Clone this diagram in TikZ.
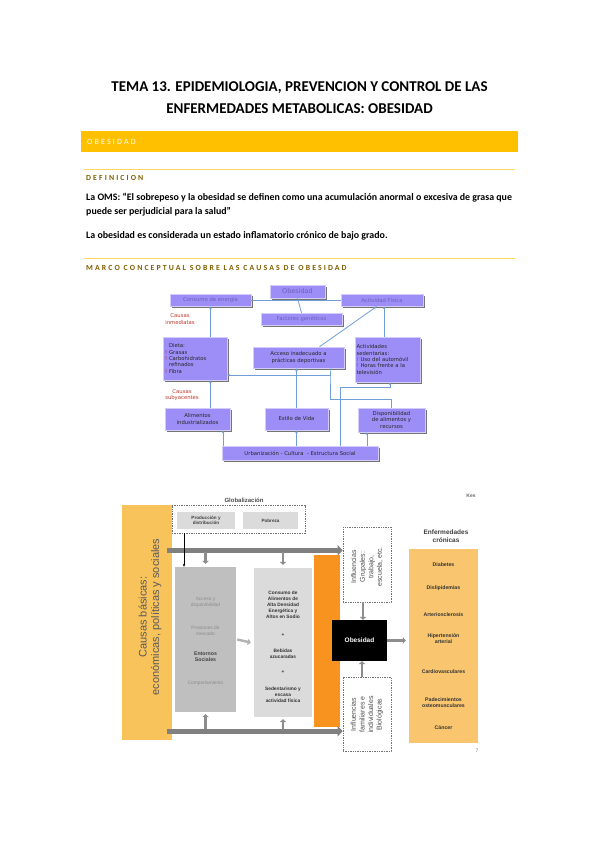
\documentclass[tikz,border=0pt]{standalone}
\usepackage{fontspec}
\setmainfont{Carlito}
\newfontfamily\spaced[LetterSpace=27]{Carlito}
\newfontfamily\verdfont{DejaVu Sans}
\newfontfamily\arialfont{Liberation Sans}
\usetikzlibrary{arrows.meta,positioning,shadows}

\definecolor{gold}{HTML}{FFC000}
\definecolor{rulegold}{HTML}{FFD966}
\definecolor{headgold}{HTML}{7F6000}
\definecolor{purplebox}{HTML}{9D8DF7}
\definecolor{purpletext}{HTML}{6B60B8}
\definecolor{linkblue}{HTML}{6F9ED8}
\definecolor{causered}{HTML}{C0392B}
\definecolor{basicyellow}{HTML}{F9C35C}
\definecolor{orangebar}{HTML}{F7931E}
\definecolor{sickyellow}{HTML}{F9C56E}
\definecolor{bargray}{HTML}{808080}

\newcommand{\redmark}{\makebox[4pt][l]{\textcolor{causered}{!}}}

\begin{document}
\begin{tikzpicture}[
    x=1pt, y=-1pt,
    >={Stealth[length=3pt,width=2.6pt]},
    doc/.style={font=\bfseries\fontsize{9.9}{12}\selectfont, anchor=west, inner sep=0pt},
    head/.style={font=\spaced\bfseries\fontsize{7.8}{9}\selectfont, text=headgold, anchor=west, inner sep=0pt},
    goldrule/.style={draw=rulegold, line width=0.9pt},
    cbox/.style={draw=purplebox!45, line width=0.5pt, fill=purplebox, inner sep=1pt, align=center,
        font=\verdfont\fontsize{5.3}{6.3}\selectfont, text=black!85,
        drop shadow={shadow xshift=2pt, shadow yshift=-2pt, fill=black!60, draw=none, opacity=0.9}},
    toprow/.style={cbox, text=purpletext},
    cause/.style={font=\verdfont\fontsize{5.3}{6.3}\selectfont, text=causered, align=center, inner sep=0pt},
    link/.style={draw=linkblue, line width=0.8pt},
    arr/.style={link, ->},
    gbox/.style={fill=black!14, align=center, inner sep=0pt,
        font=\arialfont\bfseries\fontsize{4.6}{5.6}\selectfont, text=black!75},
    dbox/.style={draw=black!55, dash pattern=on 1.4pt off 1pt, line width=0.6pt, fill=white, inner sep=0pt},
    rot/.style={rotate=90, align=center, inner sep=0pt, font=\arialfont\fontsize{7}{8.6}\selectfont, text=black!70},
    gbar/.style={draw=bargray, line width=5pt, -{Triangle[length=5pt,width=10pt]}},
    gsmall/.style={draw=bargray!90, line width=2.4pt, -{Triangle[length=3pt,width=6.5pt]}},
    lgarrow/.style={draw=black!30, line width=2.4pt, -{Triangle[length=3pt,width=6.5pt]}},
    inner/.style={align=center, inner sep=0pt, font=\arialfont\fontsize{4.8}{5.8}\selectfont, text=black!45},
    bold/.style={align=center, inner sep=0pt, font=\arialfont\bfseries\fontsize{4.8}{5.9}\selectfont, text=black!80},
    sick/.style={align=center, inner sep=0pt, font=\arialfont\bfseries\fontsize{5.2}{6.2}\selectfont, text=black!80}
]
\fill[white] (0,0) rectangle (599,848);
\useasboundingbox (0,0) rectangle (599,848);

% page header
\node[font=\bfseries\fontsize{15}{18}\selectfont] (title1) at (299.5,88) {TEMA 13. EPIDEMIOLOGIA, PREVENCION Y CONTROL DE LAS};
\node[font=\bfseries\fontsize{15}{18}\selectfont] (title2) at (299.5,109) {ENFERMEDADES METABOLICAS: OBESIDAD};

\node[fill=gold, minimum width=437pt, minimum height=21pt, inner sep=0pt, anchor=north west] (secbar) at (81,131) {};
\node[anchor=west, inner sep=0pt, text=white, font=\spaced\fontsize{8}{9}\selectfont] (seclbl) at (87,142) {OBESIDAD};

\draw[goldrule] (84,169) -- (515,169);
\node[head] (def) at (86,178) {DEFINICION};
\node[doc] (oms1) at (86,197.5) {La OMS: “El sobrepeso y la obesidad se definen como una acumulación anormal o excesiva de grasa que};
\node[doc] (oms2) at (86,212) {puede ser perjudicial para la salud”};
\node[doc] (infl) at (86,235.5) {La obesidad es considerada un estado inflamatorio crónico de bajo grado.};

\draw[goldrule] (84,258.5) -- (515,258.5);
\node[head] (marco) at (86,267.5) {MARCO CONCEPTUAL SOBRE LAS CAUSAS DE OBESIDAD};

% marco conceptual
\node[toprow, minimum width=81pt, minimum height=12pt] (energia) at (210.5,300) {Consumo de energía};
\node[toprow, minimum width=55pt, minimum height=13pt, font=\verdfont\fontsize{6.5}{7.5}\selectfont] (obesA) at (297.5,291.5) {Obesidad};
\node[toprow, minimum width=82pt, minimum height=12pt] (fisica) at (382,300) {Actividad Física};
\node[toprow, minimum width=81pt, minimum height=12pt] (genes) at (301.5,319) {Factores genéticos};

\node[cbox, minimum width=64pt, minimum height=43pt, text width=60pt, align=left] (dieta) at (195,358.5)
    {\hspace*{4pt}Dieta:\\\redmark Grasas\\\redmark Carbohidratos\\\hspace*{4pt}refinados\\\redmark Fibra};
\node[cbox, minimum width=91pt, minimum height=21pt] (acceso) at (298.5,357.5) {Acceso inadecuado a\\prácticas deportivas};
\node[cbox, minimum width=65pt, minimum height=45pt, text width=62pt, align=left] (sedent) at (387.5,359.5)
    {Actividades\\sedentarias:\\\redmark Uso del automóvil\\\redmark Horas frente a la\\televisión};

\node[cbox, minimum width=65pt, minimum height=22pt] (alim) at (197.5,419) {Alimentos\\industrializados};
\node[cbox, minimum width=63pt, minimum height=22pt] (estilo) at (296.5,419) {Estilo de Vida};
\node[cbox, minimum width=67pt, minimum height=24pt] (dispo) at (391.5,420) {Disponibilidad\\de alimentos y\\recursos};
\node[cbox, minimum width=156pt, minimum height=14pt] (urban) at (300,453) {Urbanización - Cultura \ - Estructura Social};

\node[cause] (inmed) at (180,319) {Causas\\inmediatas};
\node[cause] (subya) at (182,395) {Causas\\subyacentes};

\draw[link] (energia.east) -- (fisica.west);
\draw[link] (obesA.south) -- (genes.north);
\draw[arr] (dieta.north -| energia.south) -- (energia.south);
\draw[arr] ([xshift=21pt]acceso.north) -- ([xshift=-5pt]fisica.south);
\draw[arr] ([xshift=2pt]fisica.south |- sedent.north) -- ([xshift=2pt]fisica.south);
\draw[arr] (alim.north -| energia.south) -- (dieta.south -| energia.south);
\draw[arr] (dispo.north) -- ++(0,-8) -| ([xshift=31.5pt]acceso.south) |- ([yshift=-16.5pt]dieta.east);
\draw[arr] (estilo.north) -- (estilo.north |- acceso.south);
\draw[arr] ([xshift=25.5pt]alim.south |- urban.north) -- ([xshift=25.5pt]alim.south);
\draw[arr] (estilo.south |- urban.north) -- (estilo.south);
\draw[arr] ([xshift=40pt]urban.north) |- ([xshift=2.5pt,yshift=-5pt]sedent.south) -- ([xshift=2.5pt]sedent.south);
\draw[arr] ([xshift=-24.5pt]dispo.south |- urban.north) -- ([xshift=-24.5pt]dispo.south);

% causas basicas
\node[font=\arialfont\bfseries\fontsize{6}{7}\selectfont, text=black!70, inner sep=0pt] (glob) at (244,500) {Globalización};
\node[dbox, minimum width=133pt, minimum height=28pt] (globbox) at (238.5,519) {};
\node[gbox, minimum width=58pt, minimum height=17pt] (prod) at (206,520.5) {Producción y\\distribución};
\node[gbox, minimum width=55pt, minimum height=17pt] (pobreza) at (270.5,520.5) {Pobreza};

\node[fill=basicyellow, minimum width=50pt, minimum height=235pt, inner sep=0pt] (basic) at (147,622.5) {};
\node[rotate=90, align=center, inner sep=0pt, text=black!65, font=\arialfont\fontsize{11}{12.5}\selectfont] (basiclbl) at (150,617)
    {Causas básicas:\\económicas, políticas y sociales};

\node[fill=black!25, minimum width=61pt, minimum height=145pt, inner sep=0pt] (acc) at (205.5,639.5) {};
\node[inner] (acc1) at (205.5,602) {Acceso y\\disponibilidad};
\node[inner] (acc2) at (205.5,630.5) {Presiones de\\mercado};
\node[bold, font=\arialfont\bfseries\fontsize{5.2}{6.4}\selectfont, text=black!75] (acc3) at (205.5,657) {Entornos\\Sociales};
\node[inner] (acc4) at (205.5,683) {Comportamiento};

\node[fill=black!14, minimum width=58pt, minimum height=149pt, inner sep=0pt] (cons) at (283,642.5) {};
\node[bold] (cons1) at (283,604.5) {Consumo de\\Alimentos de\\Alta Densidad\\Energética y\\Altos en Sodio};
\node[bold] (cons2) at (283,635) {+};
\node[bold] (cons3) at (283,654) {Bebidas\\azucaradas};
\node[bold] (cons4) at (283,672) {+};
\node[bold] (cons5) at (283,695) {Sedentarismo y\\escasa\\actividad física};

\node[fill=orangebar, minimum width=26pt, minimum height=172pt, inner sep=0pt] (orange) at (327,641) {};

\node[dbox, minimum width=48pt, minimum height=75pt] (grupal) at (367,564.5) {};
\node[rot] (grupallbl) at (367,567) {Influencias\\Grupales:\\trabajo,\\escuela, etc.};
\node[fill=black, minimum width=55pt, minimum height=41pt, inner sep=0pt, text=white,
    font=\arialfont\bfseries\fontsize{6.5}{8}\selectfont] (obesB) at (359.5,640.5) {Obesidad};
\node[dbox, minimum width=48pt, minimum height=74pt] (famil) at (367,714) {};
\node[rot] (famillbl) at (367,714.5) {Influencias\\familiares e\\individuales\\Biológicas};

\coordinate (topbar) at ([xshift=-5pt,yshift=-45.5pt]basic.north east);
\coordinate (botbar) at ([xshift=-5pt,yshift=9pt]basic.south east);
\draw[gbar] (topbar) -- (topbar -| grupal.west);
\draw[gbar] (botbar) -- (botbar -| famil.west);
\draw[gsmall] ([yshift=-2pt]topbar -| acc.north) -- ([yshift=3pt]acc.north);
\draw[gsmall] ([yshift=-2pt]topbar -| cons.north) -- ([yshift=3pt]cons.north);
\draw[gsmall] ([yshift=2pt]botbar -| acc.south) -- ([yshift=-2pt]acc.south);
\draw[gsmall] ([yshift=2pt]botbar -| cons.south) -- ([yshift=-2pt]cons.south);
\draw[->, black, line width=0.5pt] ([xshift=-22pt]prod.south |- globbox.south) -- ([xshift=-22pt]prod.south |- acc.north);
\draw[lgarrow] ([xshift=1pt]acc.east) -- ([xshift=-3pt]cons.west);
\draw[gsmall] ([xshift=-4pt]grupal.south) -- ([xshift=-4pt]grupal.south |- obesB.north);
\draw[gsmall] ([xshift=-5pt]famil.north) -- ([xshift=-5pt]famil.north |- obesB.south);

\node[font=\arialfont\bfseries\fontsize{6.5}{7.8}\selectfont, text=black!75, align=center, inner sep=0pt] (enftitle) at (446,536.5) {Enfermedades\\crónicas};
\node[fill=sickyellow, minimum width=69pt, minimum height=194pt, inner sep=0pt] (enf) at (443.5,646) {};
\draw[gsmall] (obesB.east) -- ([xshift=-3pt]obesB.east -| enf.west);
\node[sick] (s1) at (443.5,564.5) {Diabetes};
\node[sick] (s2) at (443.5,588) {Dislipidemias};
\node[sick] (s3) at (443.5,615) {Arteriosclerosis};
\node[sick] (s4) at (443.5,638.5) {Hipertensión\\arterial};
\node[sick] (s5) at (443.5,672) {Cardiovasculares};
\node[sick] (s6) at (443.5,703) {Padecimientos\\osteomusculares};
\node[sick] (s7) at (443.5,728) {Cáncer};

\node[font=\arialfont\bfseries\fontsize{5}{6}\selectfont, text=black!60, inner sep=0pt] (kes) at (471,496) {Kes};
\node[font=\arialfont\fontsize{5}{6}\selectfont, text=black!50, inner sep=0pt] (pnum) at (477,751) {7};
\end{tikzpicture}
\end{document}
